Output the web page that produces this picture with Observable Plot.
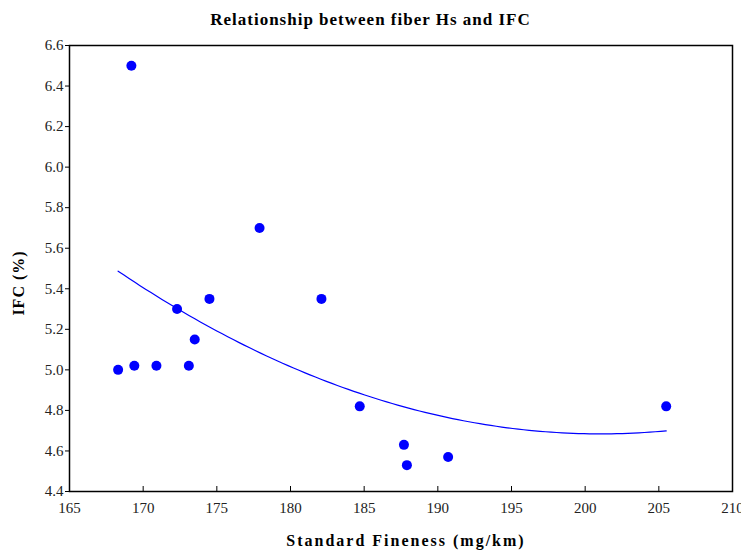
<!DOCTYPE html>
<html><head><meta charset="utf-8">
<script src="https://cdn.jsdelivr.net/npm/d3@7"></script>
<script src="https://cdn.jsdelivr.net/npm/@observablehq/plot@0.6"></script>
<style>
body{margin:0;background:#fff;}
#title{font-family:"Liberation Serif",serif;font-weight:bold;font-size:17px;letter-spacing:1px;text-align:center;width:741px;height:35px;box-sizing:border-box;padding-top:10px;line-height:20px;}
#chart svg, #chart svg text{font-family:"Liberation Serif","Times New Roman",serif !important;}
#chart svg g[aria-label$="tick label"] text{font-size:15px !important;fill:#222;}
</style></head><body>
<div id="title">Relationship between fiber Hs and IFC</div>
<div id="chart"></div>
<script>
const fineness = [168.3, 169.2, 169.4, 170.9, 172.3, 173.1, 173.5, 174.5, 177.9, 182.1, 184.7, 187.7, 187.9, 190.7, 205.5];
const ifc      = [5.00,  6.50,  5.02,  5.02,  5.30,  5.02,  5.15,  5.35,  5.70,  5.35,  4.82,  4.63,  4.53,  4.57,  4.82];
const xTicks = [165, 170, 175, 180, 185, 190, 195, 200, 205, 210];
const yTicks = [4.4, 4.6, 4.8, 5.0, 5.2, 5.4, 5.6, 5.8, 6.0, 6.2, 6.4, 6.6];

const points = fineness.map((x, i) => ({x, y: ifc[i]}));

// quadratic least-squares fit (as in the original chart)
function quadFit(xs, ys) {
  const m = d3.mean(xs);
  const u = xs.map(x => x - m);
  let S = [0,0,0,0,0], T = [0,0,0];
  u.forEach((v, i) => {
    for (let k = 0; k < 5; k++) S[k] += Math.pow(v, k);
    for (let k = 0; k < 3; k++) T[k] += Math.pow(v, k) * ys[i];
  });
  const A = [[S[0],S[1],S[2],T[0]],[S[1],S[2],S[3],T[1]],[S[2],S[3],S[4],T[2]]];
  for (let c = 0; c < 3; c++) {
    for (let r = c + 1; r < 3; r++) {
      const f = A[r][c] / A[c][c];
      for (let k = c; k < 4; k++) A[r][k] -= f * A[c][k];
    }
  }
  const b = [0,0,0];
  for (let r = 2; r >= 0; r--) {
    let s = A[r][3];
    for (let k = r + 1; k < 3; k++) s -= A[r][k] * b[k];
    b[r] = s / A[r][r];
  }
  return x => b[0] + b[1] * (x - m) + b[2] * (x - m) ** 2;
}
const f = quadFit(fineness, ifc);
const [x0, x1] = d3.extent(fineness);
const curve = d3.range(0, 101).map(i => { const x = x0 + (x1 - x0) * i / 100; return {x, y: f(x)}; });

const FONT = "'Liberation Serif', 'Times New Roman', serif";
const plot = Plot.plot({
  width: 741,
  height: 515,
  marginLeft: 69,
  marginRight: 9,
  marginTop: 10,
  marginBottom: 59,
  style: {fontFamily: FONT, fontSize: "14px", color: "black", background: "white"},
  x: {domain: [165, 210]},
  y: {domain: [4.4, 6.6]},
  marks: [
    Plot.axisY({ticks: yTicks, tickSize: 4, tickPadding: 2, tickFormat: d3.format(".1f"), label: null, fontSize: 15}),
    Plot.axisX({ticks: xTicks, tickSize: -5, tickPadding: 16, tickFormat: d3.format("d"), label: null, fontSize: 15}),
    Plot.line(curve, {x: "x", y: "y", stroke: "#0000ff", strokeWidth: 1.2}),
    Plot.dot(points, {x: "x", y: "y", r: 5, fill: "#0000ff", stroke: "none"}),
    Plot.frame({stroke: "black", strokeWidth: 1.5})
  ]
});
document.getElementById("chart").appendChild(plot);

const svg = d3.select(plot);
svg.selectAll("text").attr("font-family", FONT);

svg.append("text")
  .attr("transform", "translate(24,248) rotate(-90)")
  .attr("text-anchor", "middle")
  .attr("font-family", FONT)
  .attr("font-weight", "bold")
  .attr("font-size", 16)
  .attr("letter-spacing", 1)
  .text("IFC (%)");
svg.append("text")
  .attr("x", 406).attr("y", 511)
  .attr("text-anchor", "middle")
  .attr("font-family", FONT)
  .attr("font-weight", "bold")
  .attr("font-size", 16)
  .attr("letter-spacing", 2)
  .text("Standard Fineness (mg/km)");
</script>
</body></html>
